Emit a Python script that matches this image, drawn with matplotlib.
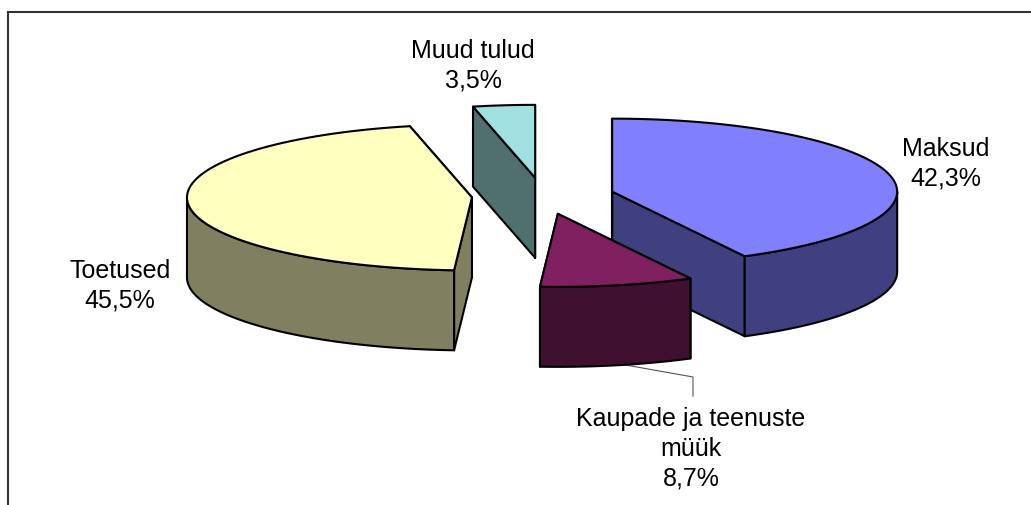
# exploded 3D pie, drawn by hand because matplotlib has no 3D pie
import numpy as np
import matplotlib.pyplot as plt
from matplotlib.patches import Polygon

plt.rcParams['font.family'] = ['Liberation Sans', 'DejaVu Sans']

labels = ['Maksud', 'Kaupade ja teenuste\nmüük', 'Toetused', 'Muud tulud']
values = [42.3, 8.7, 45.5, 3.5]
value_text = ['42,3%', '8,7%', '45,5%', '3,5%']
top_colors = ['#8080FF', '#802060', '#FFFFC0', '#A0E0E0']
side_colors = ['#404080', '#401030', '#808060', '#507070']

# pie geometry in pixels
cx, cy = 543, 196
rx, ry = 285, 73
depth = 80
explode = 0.25
label_x = [946, 691, 120, 473]
label_y = [164, 449, 286, 65.5]


def rim(t0, t1, ox, oy, n=80):
    # t is degrees clockwise from the top of the pie
    t = np.radians(np.linspace(t0, t1, n))
    return np.column_stack([ox + rx * np.sin(t), oy - ry * np.cos(t)])


fig = plt.figure(figsize=(10.31, 5.05), dpi=100)
ax = fig.add_axes([0, 0, 1, 1])
ax.set_xlim(0, 1031)
ax.set_ylim(505, 0)
ax.axis('off')

# chart frame, only top and left are inside the crop
ax.plot([8, 8, 1031], [505, 12, 12], color='#333333', lw=1.5, solid_joinstyle='miter')

shares = np.array(values) / sum(values) * 360
ends = np.cumsum(shares)
starts = ends - shares
edge = dict(edgecolor='black', linewidth=1.5, joinstyle='round')

for i in range(len(values)):
    t0, t1 = starts[i], ends[i]
    mid = np.radians((t0 + t1) / 2)
    ox = cx + explode * rx * np.sin(mid)
    oy = cy - explode * ry * np.cos(mid)
    down = np.array([0, depth])
    apex = np.array([ox, oy])
    arc = rim(t0, t1, ox, oy)

    # the two cut faces, end one first
    for p in (arc[-1], arc[0]):
        face = [apex, p, p + down, apex + down]
        ax.add_patch(Polygon(face, closed=True, facecolor=side_colors[i], zorder=i + 1, **edge))

    # outer wall, only the front half of the pie shows it
    a, b = max(t0, 90), min(t1, 270)
    if a < b:
        front = rim(a, b, ox, oy)
        wall = np.vstack([front, front[::-1] + down])
        ax.add_patch(Polygon(wall, closed=True, facecolor=side_colors[i], zorder=i + 1, **edge))

    top = np.vstack([apex, arc])
    ax.add_patch(Polygon(top, closed=True, facecolor=top_colors[i], zorder=i + 1, **edge))

    ax.text(label_x[i], label_y[i], labels[i] + '\n' + value_text[i], ha='center', va='center',
            fontsize=18, color='black', linespacing=1.3, zorder=10)

# leader line for the small slice
ax.plot([620, 693, 693], [364, 377, 396], color='#555555', lw=0.8, zorder=0)

plt.savefig('out.png', dpi=100)
